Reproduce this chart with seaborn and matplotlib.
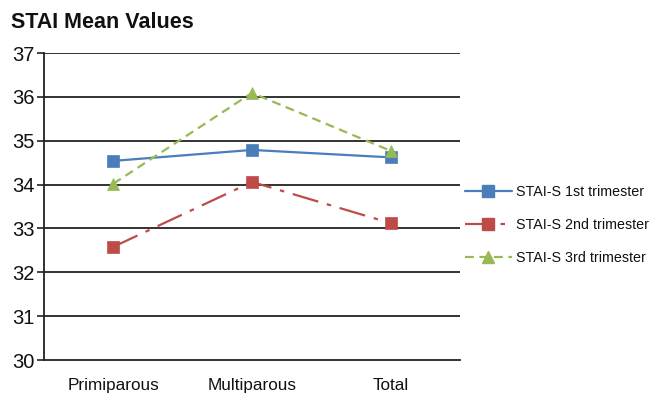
import matplotlib
matplotlib.use("Agg")
import matplotlib.pyplot as plt
from matplotlib.lines import Line2D
import pandas as pd
import seaborn as sns

groups = ["Primiparous", "Multiparous", "Total"]
first_trimester = [34.54, 34.79, 34.62]
second_trimester = [32.58, 34.06, 33.12]
third_trimester = [34.02, 36.09, 34.77]
series_names = ["STAI-S 1st trimester", "STAI-S 2nd trimester", "STAI-S 3rd trimester"]
y_ticks = [30, 31, 32, 33, 34, 35, 36, 37]

colors = ["#4A7EBB", "#BE4B48", "#98B954"]
dash_styles = [(None, None), (12, 4, 2, 4), (4, 2.5)]
marker_styles = ["s", "s", "^"]

sns.set_style("white")
plt.rcParams["font.family"] = ["Liberation Sans", "DejaVu Sans"]
plt.rcParams["text.color"] = "#111111"
plt.rcParams["xtick.labelcolor"] = "#111111"
plt.rcParams["ytick.labelcolor"] = "#111111"

df = pd.DataFrame({
    "pos": list(range(len(groups))) * 3,
    "value": first_trimester + second_trimester + third_trimester,
    "series": [s for s in series_names for _ in groups],
})

fig = plt.figure(figsize=(6.54, 3.94), dpi=100)
ax = fig.add_axes([44 / 654, 1 - 360 / 394, 416 / 654, 307 / 394])

for name, col, dash, mk in zip(series_names, colors, dash_styles, marker_styles):
    sub = df[df["series"] == name]
    sns.lineplot(data=sub, x="pos", y="value", ax=ax, color=col, lw=1.6,
                 marker=mk, markersize=8, markeredgecolor=col,
                 markeredgewidth=0.5, legend=False)
    ln = ax.lines[-1]
    if dash[0] is not None:
        ln.set_dashes(dash)

ax.set_xlim(-0.5, 2.5)
ax.set_ylim(30, 37)
ax.set_yticks(y_ticks)
ax.set_yticklabels([str(v) for v in y_ticks], fontsize=14.5)
ax.set_xticks(range(len(groups)))
ax.set_xticklabels(groups, fontsize=12.3)
ax.set_xticks([-0.5, 0.5, 1.5, 2.5], minor=True)
ax.tick_params(axis="x", which="major", length=0, pad=13)
ax.tick_params(axis="x", which="minor", length=6, width=1.2, color="#222222", direction="out")
ax.tick_params(axis="y", length=5, width=1.2, color="#222222", direction="out", pad=2, left=True)
ax.set_xlabel("")
ax.set_ylabel("")

for v in y_ticks[1:]:
    ax.axhline(v, color="#222222", lw=1.3, zorder=0)

for side in ["top", "right"]:
    ax.spines[side].set_visible(False)
for side in ["left", "bottom"]:
    ax.spines[side].set_color("#222222")
    ax.spines[side].set_linewidth(1.3)

fig.text(11 / 654, 1 - 22 / 394, "STAI Mean Values", fontsize=15.5, fontweight="bold",
         va="center", ha="left")

handles = []
for name, col, dash, mk in zip(series_names, colors, dash_styles, marker_styles):
    h = Line2D([0], [0], color=col, lw=1.6, marker=mk, markersize=8,
               markeredgecolor=col)
    if dash[0] is not None:
        h.set_dashes(dash)
    handles.append(h)

fig.legend(handles, series_names, loc="center left",
           bbox_to_anchor=(452 / 654, 1 - 225 / 394), frameon=False,
           fontsize=10.3, handlelength=3.3, handletextpad=0.3, labelspacing=1.35)

fig.savefig("out.png", dpi=100)
